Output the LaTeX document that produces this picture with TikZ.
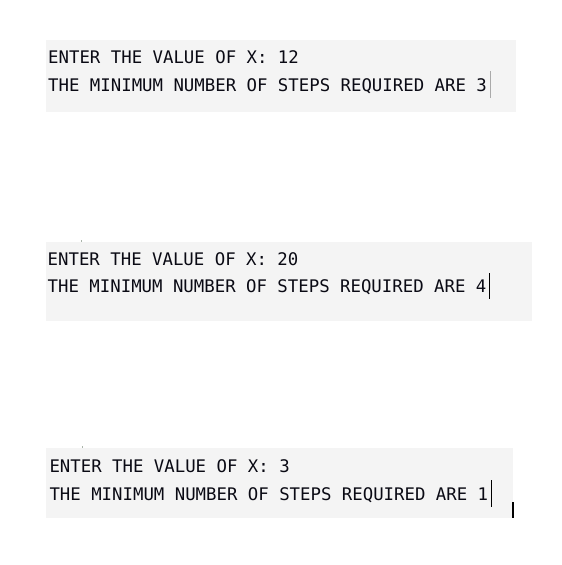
\documentclass[tikz,border=0pt]{standalone}
\usepackage{fontspec}
\setmainfont{DejaVu Sans Mono}
\begin{document}
\begin{tikzpicture}[x=1pt,y=-1pt,
  panel/.style={fill=boxgrey,draw=none},
  outline/.style={anchor=base west,inner sep=0pt,text=textdark,font=\fontsize{17.35}{20}\selectfont},
  caret/.style={line width=1.1pt},
  speck/.style={fill=speckgrey,draw=none}]
\definecolor{boxgrey}{RGB}{244,244,244}
\definecolor{speckgrey}{RGB}{170,180,170}
\definecolor{caretgrey}{RGB}{170,170,170}
\definecolor{textdark}{RGB}{10,10,20}
\useasboundingbox (0,0) rectangle (562,565);
\fill[white] (0,0) rectangle (562,565);
% panels
\path[panel] (46,40) rectangle (516,112);
\path[panel] (46,242) rectangle (532,321);
\path[panel] (46,448) rectangle (513,518);
\path[speck] (80.5,240) rectangle (82,241.5);
\path[speck] (81.5,446) rectangle (83,447.5);
% box 1
\node[outline] (a1) at (48,63) {ENTER THE VALUE OF X: 12};
\node[outline] (a2) at (48,91) {THE MINIMUM NUMBER OF STEPS REQUIRED ARE 3};
\coordinate (c1t) at (490.5,71);
\coordinate (c1b) at (490.5,98);
\draw[caret,caretgrey] (c1t) -- (c1b);
% box 2
\node[outline] (b1) at (47.5,265) {ENTER THE VALUE OF X: 20};
\node[outline] (b2) at (47.5,292) {THE MINIMUM NUMBER OF STEPS REQUIRED ARE 4};
\coordinate (c2t) at (489.5,273);
\coordinate (c2b) at (489.5,299);
\draw[caret,black] (c2t) -- (c2b);
% box 3
\node[outline] (d1) at (49.3,472) {ENTER THE VALUE OF X: 3};
\node[outline] (d2) at (49.3,500) {THE MINIMUM NUMBER OF STEPS REQUIRED ARE 1};
\coordinate (c3t) at (491.5,480);
\coordinate (c3b) at (491.5,507);
\draw[caret,black] (c3t) -- (c3b);
\coordinate (c4t) at (513,502);
\coordinate (c4b) at (513,518);
\draw[caret,black] (c4t) -- (c4b);
\end{tikzpicture}
\end{document}
